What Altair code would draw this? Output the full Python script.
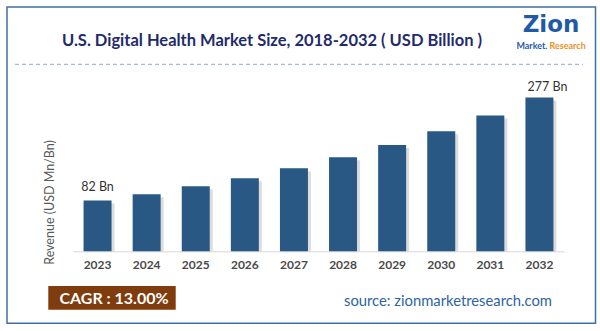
import altair as alt
import pandas as pd

years = ["2023", "2024", "2025", "2026", "2027", "2028", "2029", "2030", "2031", "2032"]
revenue = [82, 94, 109, 124, 143, 164, 187, 213, 243, 277]
bar_labels = ["82 Bn", "", "", "", "", "", "", "", "", "277 Bn"]

title_text = "U.S. Digital Health Market Size, 2018-2032 ( USD Billion )"
y_title = "Revenue (USD Mn/Bn)"
cagr_text = "CAGR : 13.00%"
source_text = "source: zionmarketresearch.com"

Y_MIN = -14
Y_MAX = 310

df = pd.DataFrame({"year": years, "revenue": revenue, "label": bar_labels})

W = 491
H = 171.3
FONT = "Lato"

x_enc = alt.X("year:N", sort=years,
              scale=alt.Scale(paddingInner=0.43, paddingOuter=0.215),
              axis=alt.Axis(title=None, labelAngle=0, ticks=False, labelPadding=8,
                            labelFont=FONT, labelFontSize=12, labelFontWeight="bold",
                            labelColor="#4a4a4a", domainColor="#d9d9d9", domainWidth=1,
                            grid=False))
y_scale = alt.Scale(domain=[Y_MIN, Y_MAX], zero=False, nice=False)
y_axis = alt.Axis(title=y_title, labels=False, ticks=False, domain=False, grid=False,
                  titleFont=FONT, titleFontSize=12.5, titleFontWeight="normal",
                  titleColor="#595959", titleAngle=-90, titleX=-24, titleY=122,
                  titleAlign="center", titleBaseline="middle")

base = alt.Chart(df)

shadow = base.mark_bar(color="#9a9a9a", opacity=0.35, xOffset=3, yOffset=3).encode(
    x=x_enc,
    y=alt.Y("revenue:Q", scale=y_scale, axis=y_axis),
    y2=alt.datum(Y_MIN),
)

bars = base.mark_bar(color="#285883").encode(
    x=x_enc,
    y=alt.Y("revenue:Q", scale=y_scale, axis=y_axis),
    y2=alt.datum(Y_MIN),
)

first_label = base.transform_filter(alt.datum.year == "2023").mark_text(
    font=FONT, fontSize=12.5, color="#333333", baseline="bottom", dy=-7
).encode(x=alt.X("year:N", sort=years), y=alt.Y("revenue:Q", scale=y_scale), text="label:N")

last_label = base.transform_filter(alt.datum.year == "2032").mark_text(
    font=FONT, fontSize=12.5, color="#333333", baseline="bottom", dy=-3, dx=8
).encode(x=alt.X("year:N", sort=years), y=alt.Y("revenue:Q", scale=y_scale), text="label:N")

ann = pd.DataFrame({"t": [0]})
a = alt.Chart(ann)

border = a.mark_rect(fill=None, stroke="#3f6fa3", strokeWidth=1.5).encode(
    x=alt.value(-66), x2=alt.value(522.5), y=alt.value(-73), y2=alt.value(243.3))

title = a.mark_text(text=title_text, font=FONT, fontSize=16.5, fontWeight="bold",
                    color="#1f2b6b", align="center", baseline="middle").encode(
    x=alt.value(199), y=alt.value(-39))

dash = a.mark_rule(color="#8fa9d2", strokeDash=[4, 3], strokeWidth=1).encode(
    x=alt.value(-58), x2=alt.value(510), y=alt.value(-15.7))

logo_zion = a.mark_text(text="Zion", font="DejaVu Sans", fontSize=23, fontWeight="bold",
                        color="#1f5aa6", align="center", baseline="middle").encode(
    x=alt.value(478), y=alt.value(-55))
logo_m = a.mark_text(text="Market.", font=FONT, fontSize=9, fontWeight="bold",
                     color="#1f5aa6", align="right", baseline="middle").encode(
    x=alt.value(474.5), y=alt.value(-34))
logo_r = a.mark_text(text="Research", font=FONT, fontSize=9, fontWeight="bold",
                     color="#f0901e", align="left", baseline="middle").encode(
    x=alt.value(476.5), y=alt.value(-34))

cagr_box = a.mark_rect(color="#7f3c0c").encode(
    x=alt.value(-24.7), x2=alt.value(102.7), y=alt.value(206), y2=alt.value(229.7))
cagr = a.mark_text(text=cagr_text, font=FONT, fontSize=16, fontWeight="bold",
                   color="#ffffff", align="center", baseline="middle").encode(
    x=alt.value(41), y=alt.value(219.5))

source = a.mark_text(text=source_text, font=FONT, fontSize=14.8,
                     color="#2e64a0", align="center", baseline="middle").encode(
    x=alt.value(375), y=alt.value(221.7))

chart = alt.layer(
    border, title, dash, logo_zion, logo_m, logo_r,
    shadow, bars, first_label, last_label, cagr_box, cagr, source
).properties(
    width=W, height=H,
    autosize=alt.AutoSizeParams(type="none"),
    padding={"left": 73, "top": 80, "right": 36, "bottom": 80},
    background="white",
).configure_view(stroke=None)

chart.save("out.html", embed_options={"renderer": "svg", "actions": False})
